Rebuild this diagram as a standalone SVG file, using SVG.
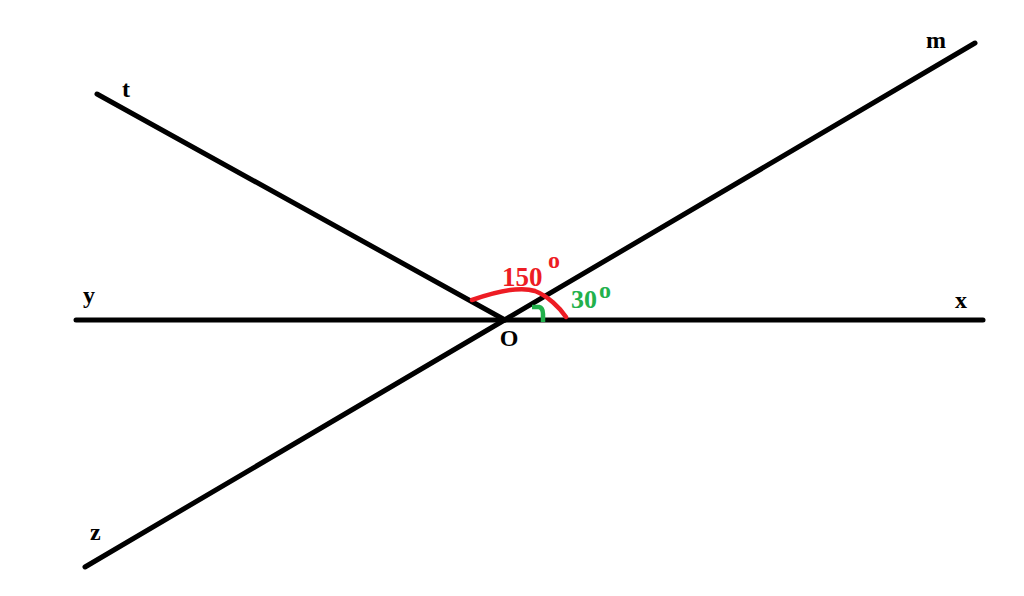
<svg xmlns="http://www.w3.org/2000/svg" width="1024" height="596" viewBox="0 0 1024 596">
<style>
.ln{stroke:#000;stroke-width:5;stroke-linecap:round;fill:none}
.lbl{font-family:"Liberation Serif","Times New Roman",serif;font-weight:bold;fill:#000;font-size:24px}
.red{fill:#ed1c24;font-family:"Liberation Serif","Times New Roman",serif;font-weight:bold}
.grn{fill:#22b14c;font-family:"Liberation Serif","Times New Roman",serif;font-weight:bold}
</style>
<rect width="1024" height="596" fill="#fff"/>
<g id="connectors">
<line class="ln" x1="76" y1="320" x2="983" y2="320"/>
<line class="ln" x1="85" y1="567" x2="975" y2="43"/>
<line class="ln" x1="97" y1="94" x2="505" y2="320"/>
</g>
<g id="angle150">
<path d="M472,300 C495,292 520,286 535,291 C548,296 560,308 566,317" fill="none" stroke="#ed1c24" stroke-width="4.5" stroke-linecap="round"/>
<text class="red" x="502" y="286" font-size="27">150</text>
<text class="red" x="548" y="268" font-size="24">o</text>
</g>
<g id="angle30">
<path d="M532,307 L539,307 Q543,308 543,314 L543,322" fill="none" stroke="#22b14c" stroke-width="4.5"/>
<text class="grn" x="571" y="308" font-size="26">30</text>
<text class="grn" x="599" y="298" font-size="24">o</text>
</g>
<g id="label-O"><text class="lbl" x="509" y="346" text-anchor="middle">O</text></g>
<g id="label-t"><text class="lbl" x="122" y="97">t</text></g>
<g id="label-m"><text class="lbl" x="926" y="48">m</text></g>
<g id="label-y"><text class="lbl" x="83" y="303">y</text></g>
<g id="label-x"><text class="lbl" x="955" y="308">x</text></g>
<g id="label-z"><text class="lbl" x="90" y="540">z</text></g>
</svg>
